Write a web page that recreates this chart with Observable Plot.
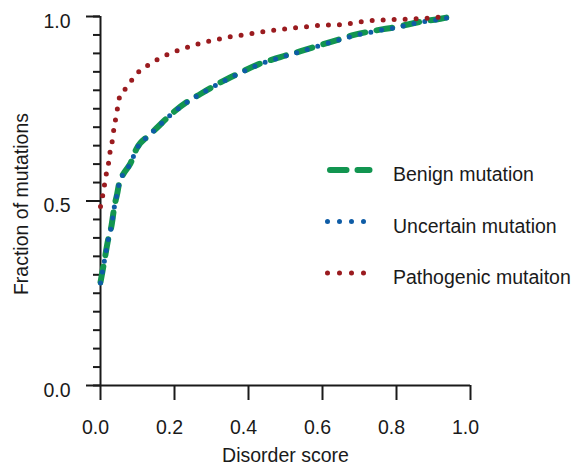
<!DOCTYPE html>
<html>
<head>
<meta charset="utf-8">
<script src="https://cdn.jsdelivr.net/npm/d3@7"></script>
<script src="https://cdn.jsdelivr.net/npm/@observablehq/plot@0.6"></script>
<style>
  html, body { margin: 0; padding: 0; background: #fff; }
  #chart svg { display: block; overflow: visible; }
</style>
</head>
<body>
<div id="chart"></div>
<script>
// Cumulative fraction of mutations by disorder score
const benignX = [0.000, 0.011, 0.022, 0.029, 0.038, 0.045, 0.051, 0.063, 0.081, 0.097, 0.131, 0.149, 0.194, 0.239, 0.270, 0.320, 0.374, 0.428, 0.486, 0.541, 0.599, 0.649, 0.685, 0.743, 0.802, 0.861, 0.919, 0.950];
const benignY = [0.280, 0.341, 0.402, 0.429, 0.488, 0.519, 0.551, 0.575, 0.602, 0.641, 0.678, 0.695, 0.738, 0.772, 0.790, 0.819, 0.846, 0.871, 0.890, 0.906, 0.924, 0.939, 0.950, 0.962, 0.972, 0.985, 0.994, 1.000];

const uncertainX = [0.000, 0.011, 0.022, 0.029, 0.038, 0.045, 0.051, 0.063, 0.081, 0.097, 0.131, 0.149, 0.194, 0.239, 0.270, 0.320, 0.374, 0.428, 0.486, 0.541, 0.599, 0.649, 0.685, 0.743, 0.802, 0.861, 0.919, 0.950];
const uncertainY = [0.278, 0.340, 0.401, 0.429, 0.487, 0.519, 0.550, 0.575, 0.602, 0.640, 0.678, 0.695, 0.737, 0.771, 0.790, 0.818, 0.845, 0.870, 0.889, 0.905, 0.923, 0.938, 0.948, 0.960, 0.971, 0.984, 0.993, 0.999];

const pathogenicX = [0.000, 0.006, 0.011, 0.016, 0.022, 0.026, 0.032, 0.036, 0.041, 0.046, 0.052, 0.070, 0.087, 0.106, 0.132, 0.158, 0.184, 0.212, 0.240, 0.268, 0.298, 0.327, 0.356, 0.386, 0.416, 0.476, 0.534, 0.593, 0.649, 0.712, 0.802, 0.892, 0.930];
const pathogenicY = [0.485, 0.515, 0.545, 0.575, 0.604, 0.634, 0.664, 0.694, 0.723, 0.752, 0.783, 0.807, 0.831, 0.853, 0.870, 0.886, 0.898, 0.909, 0.918, 0.927, 0.934, 0.940, 0.946, 0.950, 0.955, 0.964, 0.970, 0.976, 0.978, 0.987, 0.992, 0.996, 1.000];

const seriesNames = ["Benign mutation", "Uncertain mutation", "Pathogenic mutaiton"];
const seriesColors = ["#129550", "#0e5ca6", "#9a1b1f"];

const xTicks = [0, 0.2, 0.4, 0.6, 0.8, 1.0];
const yMajorTicks = [0, 0.5, 1.0];
const yMinorTicks = d3.range(0, 21).map(i => i / 20);

const xLabel = "Disorder score";
const yLabel = "Fraction of mutations";

const font = "'Liberation Sans', Arial, Helvetica, sans-serif";
const ink = "#1a1a1a";

const toRows = (xs, ys) => xs.map((x, i) => ({x, y: ys[i]}));
const benign = toRows(benignX, benignY);
const uncertain = toRows(uncertainX, uncertainY);
const pathogenic = toRows(pathogenicX, pathogenicY);

// line styles shared by the curves and their legend samples
const styles = [
  {strokeWidth: 6, strokeDasharray: "16,11.5"},
  {strokeWidth: 5, strokeDasharray: "0,11"},
  {strokeWidth: 5, strokeDasharray: "0,11"}
];

const svg = Plot.plot({
  width: 574,
  height: 465,
  marginLeft: 100,
  marginRight: 104,
  marginTop: 16,
  marginBottom: 80,
  style: {fontFamily: font, background: "#fff", color: ink},
  x: {domain: [0, 1]},
  y: {domain: [0, 1]},
  marks: [
    // axis ticks
    Plot.axisY({ticks: yMinorTicks, tickSize: 7, tickFormat: () => "", strokeWidth: 2, label: null}),
    Plot.axisY({ticks: yMajorTicks, tickSize: 14, tickFormat: () => "", strokeWidth: 2, label: null}),
    Plot.axisX({ticks: xTicks, tickSize: 15, tickFormat: () => "", strokeWidth: 2, label: null}),
    // axis lines
    Plot.ruleX([0], {y1: 0, y2: 1, stroke: ink, strokeWidth: 2}),
    Plot.ruleY([0], {x1: 0, x2: 1, stroke: ink, strokeWidth: 2}),
    // tick labels
    Plot.text(yMajorTicks, {y: d => d, text: d => d.toFixed(1), frameAnchor: "left", textAnchor: "end",
      dx: -30, dy: 5, fontSize: 19.5, fill: ink}),
    Plot.text(xTicks, {x: d => d, text: d => d.toFixed(1), frameAnchor: "bottom", lineAnchor: "bottom",
      dx: -5, dy: 48, fontSize: 19.5, fill: ink}),
    // axis titles
    Plot.text([xLabel], {text: d => d, frameAnchor: "bottom", lineAnchor: "bottom", dy: 76, fontSize: 19.5, fill: ink}),
    Plot.text([yLabel], {text: d => d, frameAnchor: "left", textAnchor: "middle", lineAnchor: "bottom", rotate: -90,
      dx: -73, dy: 3, fontSize: 19.5, fill: ink}),
    // curves
    Plot.line(benign, {x: "x", y: "y", stroke: seriesColors[0], ...styles[0], strokeLinecap: "round", curve: "monotone-x"}),
    Plot.line(uncertain, {x: "x", y: "y", stroke: seriesColors[1], ...styles[1], strokeLinecap: "round", curve: "monotone-x"}),
    Plot.line(pathogenic, {x: "x", y: "y", stroke: seriesColors[2], ...styles[2], strokeLinecap: "round", curve: "monotone-x"})
  ]
});

// legend at the right of the plot
const legend = d3.select(svg).append("g")
  .attr("font-family", font)
  .attr("font-size", 19.5)
  .attr("text-anchor", "start");
seriesNames.forEach((name, i) => {
  const row = legend.append("g").attr("transform", `translate(0,${i * 51.5})`);
  const dashed = i === 0;
  row.append("line")
    .attr("x1", dashed ? 330 : 327.5)
    .attr("x2", dashed ? 369.5 : 364)
    .attr("y1", 170).attr("y2", 170)
    .attr("stroke", seriesColors[i])
    .attr("stroke-width", styles[i].strokeWidth)
    .attr("stroke-dasharray", dashed ? "16.5,11" : "0,12")
    .attr("stroke-linecap", "round");
  row.append("text")
    .attr("x", 393).attr("y", 181)
    .attr("fill", ink)
    .attr("text-anchor", "start")
    .text(name);
});

document.getElementById("chart").appendChild(svg);
</script>
</body>
</html>
